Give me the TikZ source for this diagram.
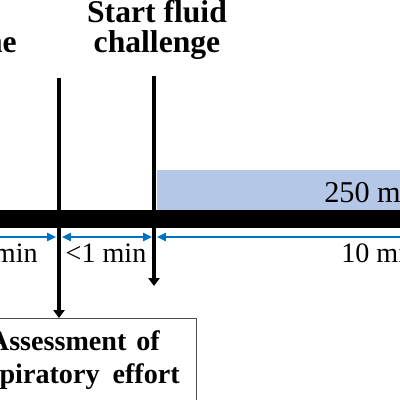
\documentclass[tikz,border=0pt]{standalone}
\usepackage{fontspec}
\setmainfont{Liberation Serif}
\usetikzlibrary{arrows.meta}
\definecolor{fluidblue}{RGB}{180,199,231}
\definecolor{spanblue}{RGB}{0,112,192}
\tikzset{
    headtext/.style={font=\bfseries\fontsize{22.5}{24}\selectfont, inner sep=0pt},
    durtext/.style={font=\fontsize{20}{24}\selectfont, inner sep=0pt},
    boxtext/.style={font=\bfseries\fontsize{20}{24}\selectfont, inner sep=0pt},
    marker/.style={line width=3.3pt, -{Triangle[width=0.28cm,length=0.2cm]}},
    span/.style={spanblue, line width=1.4pt},
    spantip/.tip={Triangle[width=0.2cm,length=0.22cm]},
}

\begin{document}
\begin{tikzpicture}[x=0.025cm, y=-0.025cm]
    \useasboundingbox (0,0) rectangle (400,400);
    \clip (0,0) rectangle (400,400);
    \fill[fluidblue] (157,170) rectangle (420,210);
    \fill[black] (-20,210) rectangle (420,228);
    \node[headtext, anchor=base] (start1) at (157,23) {Start fluid};
    \node[headtext, anchor=base] (start2) at (157,53) {challenge};
    \node[headtext, anchor=base east] (prev2) at (17,53) {ne};
    \node[durtext, font=\fontsize{21.5}{24}\selectfont, anchor=base west] (rate) at (324,202) {250 m};
    \node[draw=black!70, line width=0.9pt, minimum width=7.5cm, minimum height=5cm, anchor=north east] (assess) at (197,318) {};
    \node[boxtext, anchor=base east] (assess1) at (160,350) {Assessment\hspace{0.07cm} of};
    \node[boxtext, anchor=base east] (assess2) at (180,383) {spiratory\hspace{0.15cm} effort};
    \coordinate (assessTop) at (59,78);
    \coordinate (fluidTop) at (154,76);
    \coordinate (fluidEnd) at (154,286);
    \draw[marker] (fluidTop) -- (fluidEnd);
    \draw[marker] (assessTop) -- (assessTop |- assess.north);
    \coordinate (t0) at (-10,237);
    \coordinate (t1a) at (56,237);
    \coordinate (t1b) at (62,237);
    \coordinate (t2a) at (152,237);
    \coordinate (t2b) at (157,237);
    \coordinate (t3) at (410,237);
    \draw[span, -spantip] (t0) -- (t1a);
    \draw[span, spantip-spantip] (t1b) -- (t2a);
    \draw[span, spantip-] (t2b) -- (t3);
    \node[durtext, anchor=base east] (preMin) at (38,262) {min};
    \node[durtext, anchor=base] (waitMin) at (106,262) {<1 min};
    \node[durtext, anchor=base west] (fluidMin) at (341,262) {10 mi};
\end{tikzpicture}
\end{document}
